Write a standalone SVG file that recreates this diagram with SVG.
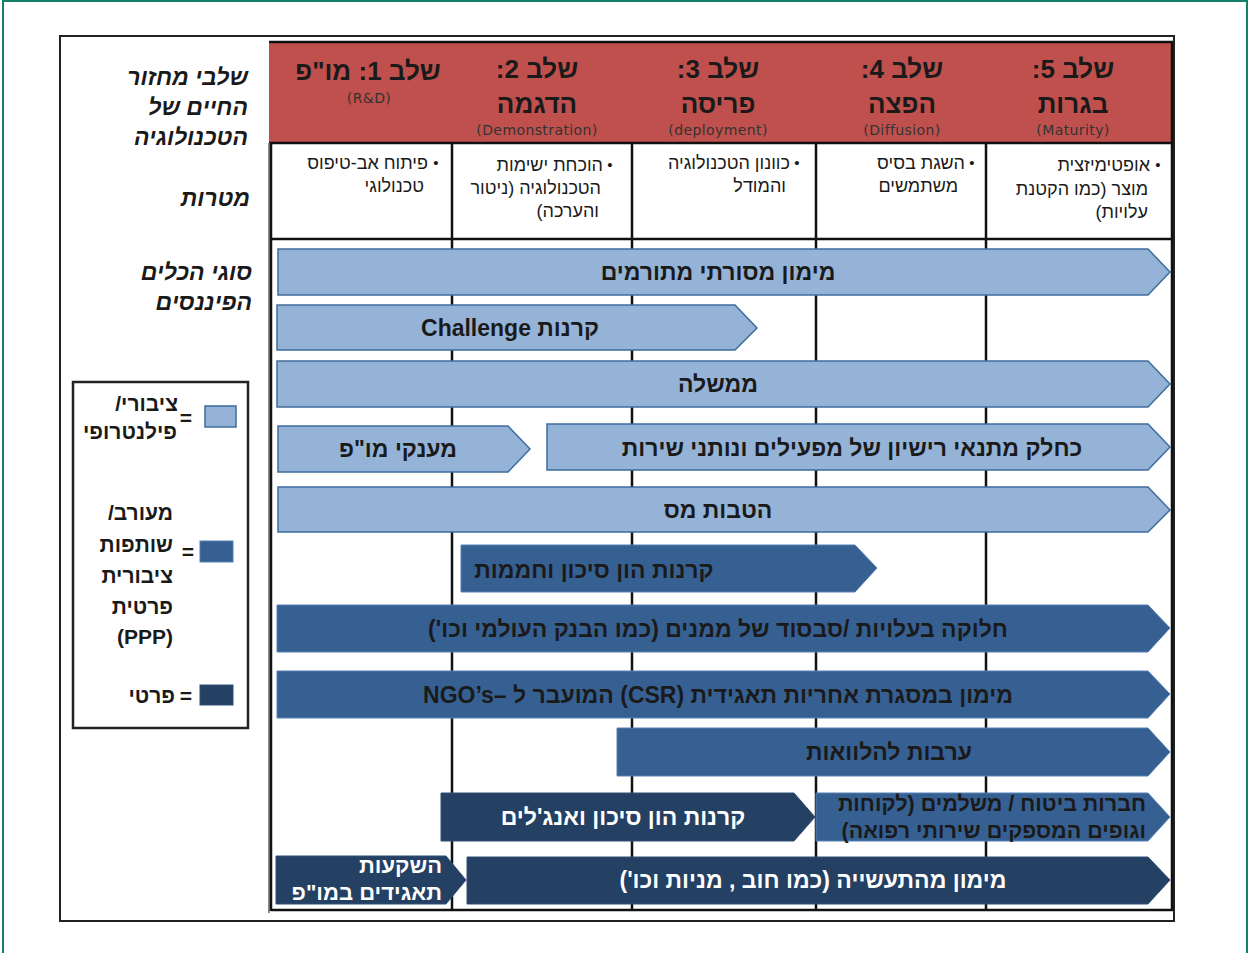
<svg xmlns="http://www.w3.org/2000/svg" width="1252" height="953" viewBox="0 0 1252 953">
<style>
text{font-family:"Liberation Sans","DejaVu Sans",sans-serif;fill:#1a1a1a}
.dv{font-family:"DejaVu Sans","Liberation Sans",sans-serif}
.rtl{direction:rtl;unicode-bidi:embed}
.h1{font-size:26px;font-weight:bold;text-anchor:middle}
.h3{font-size:14px;text-anchor:middle;fill:#333;letter-spacing:0.4px}
.lbl{font-size:23px;font-weight:bold;font-style:italic;text-anchor:start}
.goal{font-size:18px;text-anchor:start}
.bul{font-size:15px;text-anchor:middle}
.at{font-size:23px;font-weight:bold;text-anchor:middle}
.atr{font-size:21.5px;font-weight:bold;text-anchor:start}
.w{fill:#ffffff}
.leg{font-size:21px;font-weight:bold;text-anchor:start}
.light{fill:#95b3d7;stroke:#3c6c9e;stroke-width:1.5}
.mid{fill:#376092;stroke:#5580b5;stroke-width:1}
.dark{fill:#244062;stroke:#2e4f78;stroke-width:1}
.grid{stroke:#111;stroke-width:2.5;fill:none}
</style>
<rect x="3" y="1" width="1244" height="970" fill="#fff" stroke="#15806a" stroke-width="2"/>
<rect x="60" y="36" width="1114" height="885" fill="#fff" stroke="#222" stroke-width="2"/>

<g id="grid">
<rect x="269" y="43" width="903" height="99" fill="#c0504d"/>
<line x1="269" y1="42" x2="1173" y2="42" class="grid"/>
<line x1="269" y1="143" x2="1173" y2="143" class="grid"/>
<line x1="271" y1="239" x2="1173" y2="239" class="grid"/>
<rect x="268" y="143" width="2" height="770" fill="#888"/>
<line x1="271" y1="143" x2="271" y2="911" class="grid"/>
<line x1="1172" y1="42" x2="1172" y2="911" class="grid"/>
<line x1="271" y1="910" x2="1173" y2="910" class="grid"/>
<line x1="452" y1="143" x2="452" y2="910" class="grid"/>
<line x1="632" y1="143" x2="632" y2="910" class="grid"/>
<line x1="816" y1="143" x2="816" y2="910" class="grid"/>
<line x1="986" y1="143" x2="986" y2="910" class="grid"/>
</g>

<g id="header">
<text class="h1 rtl" x="368" y="80">שלב 1: מו"פ</text>
<text class="h3 dv rtl" x="369" y="103">(R&amp;D)</text>
<text class="h1 rtl" x="537" y="78">שלב 2:</text>
<text class="h1 rtl" x="537" y="113">הדגמה</text>
<text class="h3 dv rtl" x="537" y="135">(Demonstration)</text>
<text class="h1 rtl" x="718" y="78">שלב 3:</text>
<text class="h1 rtl" x="718" y="113">פריסה</text>
<text class="h3 dv rtl" x="718" y="135">(deployment)</text>
<text class="h1 rtl" x="902" y="78">שלב 4:</text>
<text class="h1 rtl" x="902" y="113">הפצה</text>
<text class="h3 dv rtl" x="902" y="135">(Diffusion)</text>
<text class="h1 rtl" x="1073" y="78">שלב 5:</text>
<text class="h1 rtl" x="1073" y="113">בגרות</text>
<text class="h3 dv rtl" x="1073" y="135">(Maturity)</text>
</g>

<g id="goals">
<text class="bul" x="436" y="168">•</text>
<text class="goal rtl" x="428" y="169">פיתוח אב-טיפוס</text>
<text class="goal rtl" x="424" y="192">טכנולוגי</text>
<text class="bul" x="610" y="170">•</text>
<text class="goal rtl" x="603" y="171">הוכחת  ישימות</text>
<text class="goal rtl" x="601" y="194">הטכנולוגיה (ניטור</text>
<text class="goal rtl" x="599" y="217">והערכה)</text>
<text class="bul" x="797" y="168">•</text>
<text class="goal rtl" x="790" y="169">כוונון הטכנולוגיה</text>
<text class="goal rtl" x="786" y="192">והמודל</text>
<text class="bul" x="972" y="168">•</text>
<text class="goal rtl" x="965" y="169">השגת בסיס</text>
<text class="goal rtl" x="958" y="192">משתמשים</text>
<text class="bul" x="1158" y="170">•</text>
<text class="goal rtl" x="1150" y="171">אופטימיזצית</text>
<text class="goal rtl" x="1148" y="195">מוצר (כמו הקטנת</text>
<text class="goal rtl" x="1148" y="218">עלויות)</text>
</g>

<g id="row-labels">
<text class="lbl rtl" x="248" y="85">שלבי מחזור</text>
<text class="lbl rtl" x="248" y="115">החיים של</text>
<text class="lbl rtl" x="248" y="145">הטכנולוגיה</text>
<text class="lbl rtl" x="250" y="206">מטרות</text>
<text class="lbl rtl" x="252" y="280">סוגי הכלים</text>
<text class="lbl rtl" x="252" y="310">הפיננסים</text>
</g>

<g id="legend">
<rect x="73" y="382" width="175" height="346" fill="#fff" stroke="#222" stroke-width="2.5"/>
<rect x="205" y="406" width="31" height="21" class="light"/>
<text class="leg" x="186" y="425" style="text-anchor:middle">=</text>
<text class="leg rtl" x="178" y="411">ציבורי/</text>
<text class="leg rtl" x="177" y="439">פילנטרופי</text>
<rect x="200" y="541" width="33" height="21" class="mid"/>
<text class="leg" x="188" y="559" style="text-anchor:middle">=</text>
<text class="leg rtl" x="173" y="520">מעורב/</text>
<text class="leg rtl" x="173" y="552">שותפות</text>
<text class="leg rtl" x="173" y="583">ציבורית</text>
<text class="leg rtl" x="173" y="614">פרטית</text>
<text class="leg rtl" x="173" y="644">(PPP)</text>
<rect x="200" y="685" width="33" height="20" class="dark"/>
<text class="leg" x="186" y="703" style="text-anchor:middle">=</text>
<text class="leg rtl" x="175" y="703">פרטי</text>
</g>

<g id="connectors"/>

<g id="tool-donors">
<polygon class="light" points="278,249 1148,249 1170,272 1148,295 278,295"/>
<text class="at rtl" x="718" y="280">מימון מסורתי מתורמים</text>
</g>
<g id="tool-challenge">
<polygon class="light" points="277,305 735,305 757,328 735,350 277,350"/>
<text class="at rtl" x="510" y="336">קרנות Challenge</text>
</g>
<g id="tool-government">
<polygon class="light" points="277,361 1148,361 1170,384 1148,407 277,407"/>
<text class="at rtl" x="718" y="392">ממשלה</text>
</g>
<g id="tool-rd-grants">
<polygon class="light" points="278,426 508,426 530,449 508,472 278,472"/>
<text class="at rtl" x="398" y="457">מענקי מו"פ</text>
</g>
<g id="tool-license">
<polygon class="light" points="547,424 1148,424 1170,447 1148,470 547,470"/>
<text class="at rtl" x="852" y="456">כחלק מתנאי רישיון של מפעילים ונותני שירות</text>
</g>
<g id="tool-tax">
<polygon class="light" points="278,487 1148,487 1170,510 1148,532 278,532"/>
<text class="at rtl" x="718" y="518">הטבות מס</text>
</g>
<g id="tool-vc-incubators">
<polygon class="mid" points="461,545 855,545 877,568 855,592 461,592"/>
<text class="at rtl" x="594" y="578">קרנות הון סיכון וחממות</text>
</g>
<g id="tool-cost-sharing">
<polygon class="mid" points="277,605 1148,605 1170,628 1148,652 277,652"/>
<text class="at rtl" x="718" y="637">חלוקה בעלויות /סבסוד של ממנים (כמו הבנק העולמי וכו')</text>
</g>
<g id="tool-csr">
<polygon class="mid" points="277,671 1148,671 1170,694 1148,718 277,718"/>
<text class="at rtl" x="718" y="703">מימון במסגרת אחריות תאגידית (CSR) המועבר ל –NGO’s</text>
</g>
<g id="tool-loan-guarantees">
<polygon class="mid" points="617,728 1148,728 1170,752 1148,776 617,776"/>
<text class="at rtl" x="889" y="760">ערבות להלוואות</text>
</g>
<g id="tool-insurers">
<polygon class="mid" points="816,793 1148,793 1170,817 1148,841 816,841"/>
<text class="atr rtl" x="1146" y="811">חברות ביטוח / משלמים (לקוחות</text>
<text class="atr rtl" x="1146" y="838">וגופים המספקים שירותי רפואה)</text>
</g>
<g id="tool-vc-angels">
<polygon class="dark" points="441,793 794,793 815,817 794,841 441,841"/>
<text class="at rtl w" x="623" y="825">קרנות הון סיכון ואנג'לים</text>
</g>
<g id="tool-corporate-rd">
<polygon class="dark" points="276,856 446,856 466,880 446,904 276,904"/>
<text class="atr rtl w" x="442" y="873" style="font-size:22px">השקעות</text>
<text class="atr rtl w" x="442" y="900" style="font-size:22px">תאגידים במו"פ</text>
</g>
<g id="tool-industry">
<polygon class="dark" points="467,857 1148,857 1170,880 1148,904 467,904"/>
<text class="at rtl w" x="813" y="888">מימון מהתעשייה (כמו חוב , מניות וכו')</text>
</g>
</svg>
